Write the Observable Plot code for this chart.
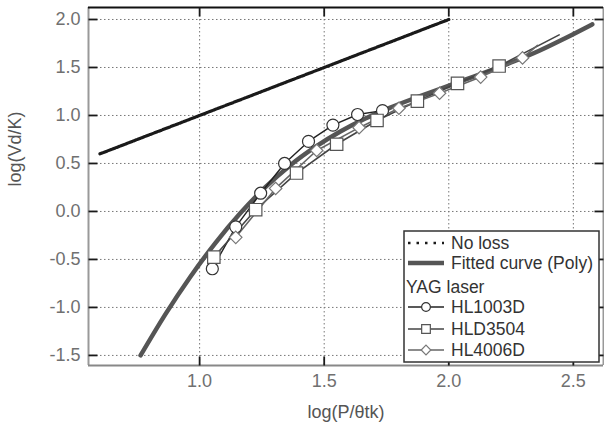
<!DOCTYPE html>
<html>
<head>
<meta charset="utf-8">
<script src="https://cdn.jsdelivr.net/npm/d3@7"></script>
<script src="https://cdn.jsdelivr.net/npm/@observablehq/plot@0.6"></script>
<style>
  html, body { margin: 0; padding: 0; background: #fff; }
  #wrap { position: relative; width: 604px; height: 429px; font-family: Arial, "Liberation Sans", sans-serif; }
  #legend { position: absolute; left: 0; top: 0; }
</style>
</head>
<body>
<div id="wrap"></div>
<script>
// ---- data ----
const xTicks = [1.0, 1.5, 2.0, 2.5];
const yTicks = [-1.5, -1.0, -0.5, 0.0, 0.5, 1.0, 1.5, 2.0];
const xLabel = "log(P/θtk)";
const yLabel = "log(Vd/K)";

const noLossX = [0.6, 2.0];
const noLossY = [0.6, 2.0];

const fittedX = [0.763, 0.863, 0.963, 1.063, 1.163, 1.263, 1.363, 1.463, 1.563, 1.663, 1.763, 1.863, 1.963, 2.063, 2.163, 2.263, 2.363, 2.463, 2.576];
const fittedY = [-1.5, -1.07, -0.68, -0.33, -0.02, 0.25, 0.48, 0.67, 0.83, 0.965, 1.08, 1.18, 1.275, 1.37, 1.465, 1.565, 1.675, 1.80, 1.95];

const hl1003dX = [1.051, 1.145, 1.245, 1.341, 1.437, 1.535, 1.634, 1.734];
const hl1003dY = [-0.597, -0.16, 0.19, 0.50, 0.73, 0.90, 1.01, 1.05];

const hld3504X = [1.057, 1.225, 1.389, 1.55, 1.712, 1.874, 2.035, 2.202];
const hld3504Y = [-0.476, 0.018, 0.40, 0.70, 0.948, 1.15, 1.335, 1.515];
const hld3504TailX = [2.443];
const hld3504TailY = [1.84];

const hl4006dX = [1.145, 1.305, 1.47, 1.64, 1.80, 1.963, 2.128, 2.296];
const hl4006dY = [-0.27, 0.24, 0.635, 0.873, 1.075, 1.232, 1.40, 1.60];
const hl4006dTailX = [2.356];
const hl4006dTailY = [1.73];

const legendTitle = "YAG laser";
const legendLines = ["No loss", "Fitted curve (Poly)"];
const seriesNames = ["HL1003D", "HLD3504", "HL4006D"];

// ---- build ----
const zip = (xs, ys) => xs.map((x, i) => ({x, y: ys[i]}));
const noLoss = zip(noLossX, noLossY);
const fitted = zip(fittedX, fittedY);
const s1 = zip(hl1003dX, hl1003dY);
const s2 = zip(hld3504X, hld3504Y);
const s2line = s2.concat(zip(hld3504TailX, hld3504TailY));
const s3 = zip(hl4006dX, hl4006dY);
const s3line = s3.concat(zip(hl4006dTailX, hl4006dTailY));

const W = 604, H = 429;
const mL = 88, mR = 1, mT = 7, mB = 64;
const pw = W - mL - mR, ph = H - mT - mB;
const xDom = [0.554, 2.621], yDom = [-1.605, 2.125];
const tk = 9;
const tkx = tk / pw * (xDom[1] - xDom[0]);
const tky = tk / ph * (yDom[1] - yDom[0]);
const fmt = d => d.toFixed(1);
const grid = {stroke: "#777", strokeOpacity: 1, strokeWidth: 1, strokeDasharray: "1.5,2.5"};
const tickStyle = {stroke: "#1a1a1a", strokeWidth: 1.8};

const chart = Plot.plot({
  width: W, height: H,
  marginLeft: mL, marginRight: mR, marginTop: mT, marginBottom: mB,
  style: {fontFamily: 'Arial, "Liberation Sans", sans-serif', fontSize: "18px", background: "#fff", overflow: "visible"},
  x: {domain: xDom},
  y: {domain: yDom},
  marks: [
    Plot.gridX(xTicks, grid),
    Plot.gridY(yTicks, grid),
    Plot.axisX(xTicks, {tickSize: 0, tickPadding: 9, tickFormat: fmt, fill: "#707070", label: null}),
    Plot.axisY(yTicks, {tickSize: 0, tickPadding: 8, tickFormat: fmt, fill: "#707070", label: null}),
    // frame
    Plot.ruleX([xDom[0]], {stroke: "#999", strokeWidth: 2}),
    Plot.ruleX([xDom[1]], {stroke: "#999", strokeWidth: 2}),
    Plot.ruleY([yDom[0]], {stroke: "#888", strokeWidth: 2}),
    Plot.ruleY([yDom[1]], {stroke: "#111", strokeWidth: 2}),
    // inward ticks
    Plot.link(yTicks, {x1: () => xDom[0], x2: () => xDom[0] + tkx, y1: d => d, y2: d => d, ...tickStyle}),
    Plot.link(yTicks, {x1: () => xDom[1] - tkx, x2: () => xDom[1], y1: d => d, y2: d => d, ...tickStyle}),
    Plot.link(xTicks, {x1: d => d, x2: d => d, y1: () => yDom[0], y2: () => yDom[0] + tky, ...tickStyle}),
    Plot.link(xTicks, {x1: d => d, x2: d => d, y1: () => yDom[1] - tky, y2: () => yDom[1], ...tickStyle}),
    // curves
    Plot.line(fitted, {x: "x", y: "y", stroke: "#555", strokeWidth: 4.5, curve: "monotone-x"}),
    Plot.line(noLoss, {x: "x", y: "y", stroke: "#1a1a1a", strokeWidth: 3.2, strokeDasharray: "3,1.5"}),
    Plot.line(s1, {x: "x", y: "y", stroke: "#222", strokeWidth: 1.4}),
    Plot.line(s2line, {x: "x", y: "y", stroke: "#444", strokeWidth: 1.6}),
    Plot.line(s3line, {x: "x", y: "y", stroke: "#666", strokeWidth: 1.6}),
    Plot.dot(s1, {x: "x", y: "y", symbol: "circle", r: 6, fill: "#fff", stroke: "#333", strokeWidth: 1.2}),
    Plot.dot(s2, {x: "x", y: "y", symbol: "square", r: 7, fill: "#fff", stroke: "#555", strokeWidth: 1.2}),
    Plot.dot(s3, {x: "x", y: "y", symbol: "diamond2", r: 5.6, fill: "#fff", stroke: "#777", strokeWidth: 1.2}),
    // axis titles
    Plot.text([xLabel], {frameAnchor: "bottom", dy: 52, text: d => d, fill: "#555", fontSize: 18}),
    Plot.text([yLabel], {frameAnchor: "left", dx: -73, rotate: -90, text: d => d, fill: "#555", fontSize: 18})
  ]
});
const wrap = document.getElementById("wrap");
wrap.appendChild(chart);

// ---- legend (overlay inside plot area) ----
const lg = d3.select(wrap).append("svg")
  .attr("id", "legend").attr("width", W).attr("height", H)
  .style("font-family", 'Arial, "Liberation Sans", sans-serif')
  .style("font-size", "17.5px");
const bx = 404, by = 231, bw = 195, bh = 131;
lg.append("rect").attr("x", bx).attr("y", by).attr("width", bw).attr("height", bh)
  .attr("fill", "#fff").attr("stroke", "#333").attr("stroke-width", 1.5);
const rowY = [12, 32, 56, 76, 98, 119].map(v => by + v);
const sx0 = bx + 4, sx1 = bx + 40, tx = bx + 47;
const txtFill = "#333";
lg.append("line").attr("x1", sx0).attr("x2", sx1).attr("y1", rowY[0]).attr("y2", rowY[0])
  .attr("stroke", "#1a1a1a").attr("stroke-width", 2.6).attr("stroke-dasharray", "2.5,6");
lg.append("text").attr("x", tx).attr("y", rowY[0]).attr("dy", "0.35em").attr("fill", txtFill).text(legendLines[0]);
lg.append("line").attr("x1", sx0).attr("x2", sx1).attr("y1", rowY[1]).attr("y2", rowY[1])
  .attr("stroke", "#555").attr("stroke-width", 4.5);
lg.append("text").attr("x", tx).attr("y", rowY[1]).attr("dy", "0.35em").attr("fill", txtFill).text(legendLines[1]);
lg.append("text").attr("x", bx + 2).attr("y", rowY[2]).attr("dy", "0.35em").attr("fill", txtFill).text(legendTitle);
const symStyles = [
  {type: d3.symbolCircle, size: 60, stroke: "#333", line: "#222"},
  {type: d3.symbolSquare, size: 75, stroke: "#555", line: "#444"},
  {type: d3.symbolDiamond2, size: 60, stroke: "#777", line: "#666"}
];
seriesNames.forEach((name, i) => {
  const y = rowY[3 + i], st = symStyles[i];
  lg.append("line").attr("x1", sx0).attr("x2", sx1).attr("y1", y).attr("y2", y)
    .attr("stroke", st.line).attr("stroke-width", 1.4);
  lg.append("path").attr("d", d3.symbol(st.type, st.size)())
    .attr("transform", `translate(${(sx0 + sx1) / 2},${y})`)
    .attr("fill", "#fff").attr("stroke", st.stroke).attr("stroke-width", 1.2);
  lg.append("text").attr("x", tx).attr("y", y).attr("dy", "0.35em").attr("fill", txtFill).text(name);
});
</script>
</body>
</html>
